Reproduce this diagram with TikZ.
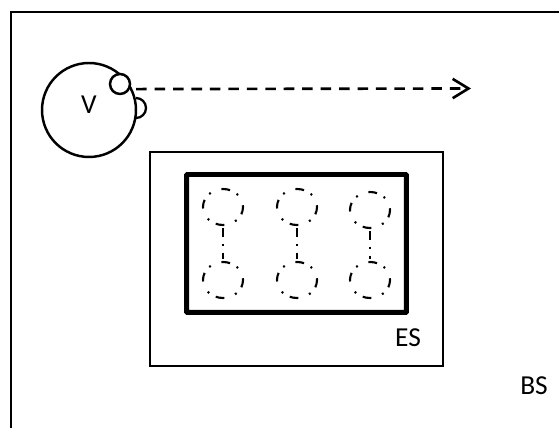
\documentclass[tikz,border=0pt]{standalone}
\usepackage{fontspec}
\setmainfont{Carlito}
\usetikzlibrary{shapes.geometric, arrows.meta}

\begin{document}
\begin{tikzpicture}[x=0.02cm, y=-0.02cm,
    label text/.style = {font=\fontsize{15.6}{17}\selectfont, inner sep=0pt},
    vehicle/.style = {draw, circle, fill=white, line width=1.4pt, minimum size=1.88cm, inner sep=0pt},
    sensor/.style = {draw, circle, fill=white, line width=1.4pt, minimum size=0.4cm, inner sep=0pt},
    server/.style = {draw, ellipse, minimum width=0.8cm, minimum height=0.72cm, inner sep=0pt, line width=1.2pt, dash pattern=on 1.1pt off 4.3pt on 5pt off 6.5pt, dash phase=9.4pt},
    link/.style = {line width=1.2pt, shorten <=1pt, shorten >=1pt, dash pattern=on 5pt off 4pt on 1.1pt off 4pt}]
    \useasboundingbox (0,0) rectangle (559,428);

    \draw[line width=1.4pt] (11,428) -- (11,12) -- (559,12);
    \node[label text] (bs) at (534,386) {BS};

    \draw[line width=1.3pt] (136,98) arc[start angle=-90, end angle=90, radius=10];
    \node[vehicle] (veh) at (89,110) {};
    \node[label text] (veh label) at (89,105) {V};
    \node[sensor] (cam) at (120,84) {};

    \coordinate (goal) at (471,88.5);
    \draw[line width=1.5pt, dash pattern=on 6pt off 4.5pt, shorten <=3.5pt, -{Straight Barb[length=9pt, width=11pt]}] (cam.-27) -- (goal);

    \node[draw, line width=1pt, minimum width=5.86cm, minimum height=4.28cm] (es) at (296.5,259) {};
    \node[label text] (es label) at (408,338) {ES};
    \node[draw, line width=2.83pt, minimum width=4.4cm, minimum height=2.76cm, rounded corners=0.5pt] (rack) at (296.5,243.5) {};

    \node[server] (top1) at (223,207) {};
    \node[server] (bot1) at (223,280) {};
    \node[server] (top2) at (297,207) {};
    \node[server] (bot2) at (297,280) {};
    \node[server] (top3) at (370,210) {};
    \node[server] (bot3) at (370,280) {};

    \draw[link] (top1) -- (bot1);
    \draw[link] (top2) -- (bot2);
    \draw[link] (top3) -- (bot3);
\end{tikzpicture}
\end{document}
